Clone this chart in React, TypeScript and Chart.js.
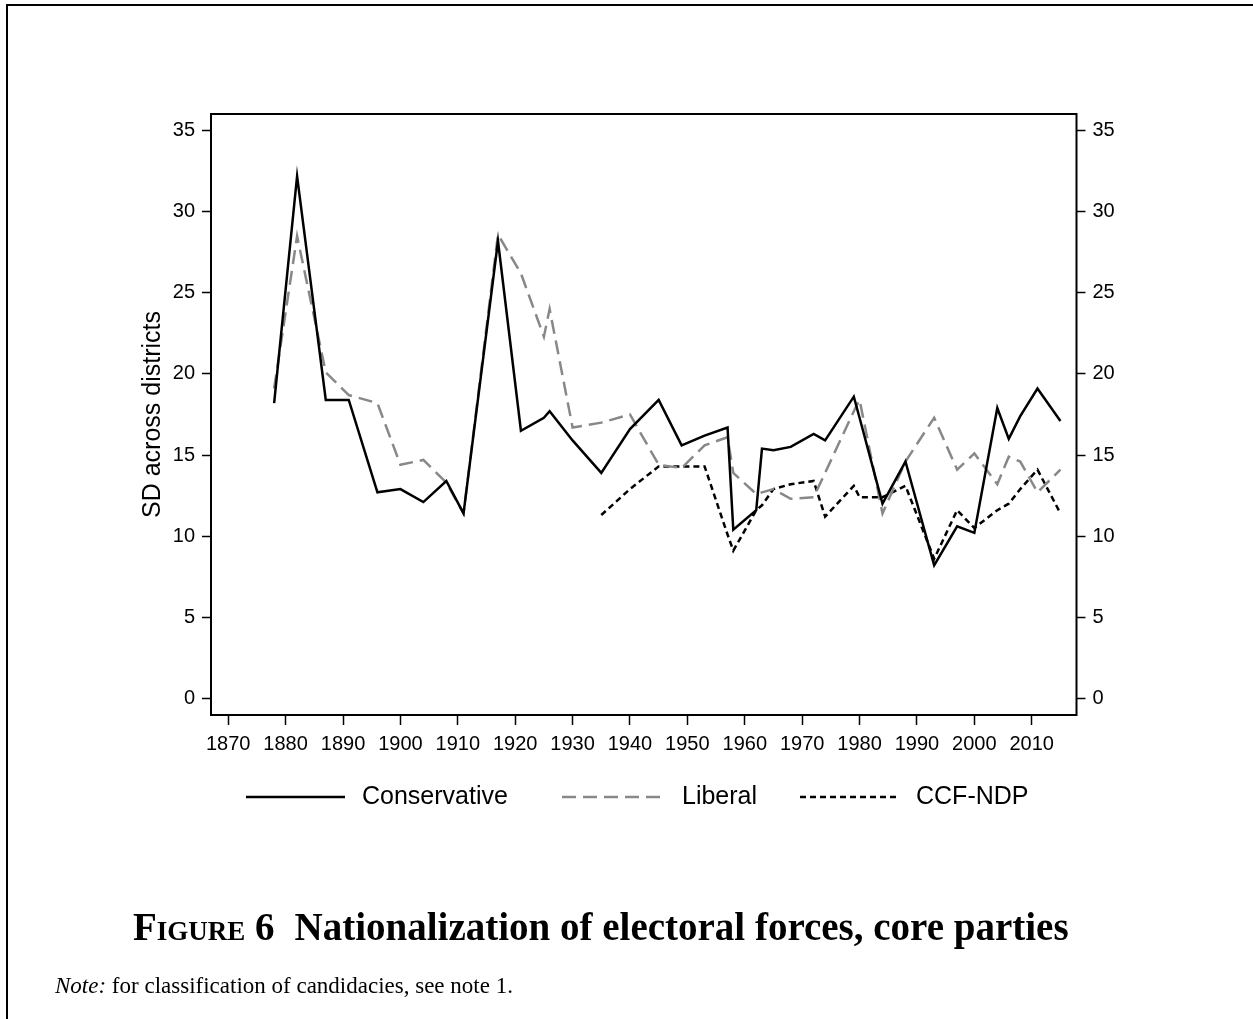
import React, { useEffect, useRef } from "react";
import { Chart, registerables } from "chart.js";

Chart.register(...registerables);

// ---- Data ----
const years = [
  1878, 1882, 1887, 1891, 1896, 1900, 1904, 1908, 1911, 1917, 1921, 1925, 1926,
  1930, 1935, 1940, 1945, 1949, 1953, 1957, 1958, 1962, 1963, 1965, 1968, 1972,
  1974, 1979, 1980, 1984, 1988, 1993, 1997, 2000, 2004, 2006, 2008, 2011, 2015,
];
const conservative = [
  18.2, 32.2, 18.4, 18.4, 12.7, 12.9, 12.1, 13.4, 11.4, 28.2, 16.5, 17.3, 17.7,
  15.9, 13.9, 16.6, 18.4, 15.6, 16.2, 16.7, 10.4, 11.6, 15.4, 15.3, 15.5, 16.3,
  15.9, 18.6, 17.3, 12.0, 14.6, 8.2, 10.6, 10.2, 17.9, 16.0, 17.4, 19.1, 17.1,
];
const liberal = [
  19.1, 28.5, 20.1, 18.7, 18.2, 14.4, 14.7, 13.3, 11.4, 28.6, 26.2, 22.3, 24.0,
  16.7, 17.0, 17.5, 14.4, 14.2, 15.6, 16.1, 13.9, 12.6, 12.7, 12.9, 12.3, 12.4,
  13.9, 17.7, 18.4, 11.4, 14.6, 17.3, 14.1, 15.1, 13.2, 14.9, 14.6, 12.7, 14.1,
];
const ccfNdp: (number | null)[] = [
  null, null, null, null, null, null, null, null, null, null, null, null, null,
  null, 11.3, 12.9, 14.3, 14.3, 14.3, 10.1, 9.1, 11.6, 11.9, 12.9, 13.2, 13.4,
  11.2, 13.1, 12.4, 12.4, 13.1, 8.6, 11.6, 10.5, 11.6, 12.0, 12.9, 14.1, 11.4,
];
const seriesNames = ["Conservative", "Liberal", "CCF-NDP"];
const xTicks = [1870, 1880, 1890, 1900, 1910, 1920, 1930, 1940, 1950, 1960, 1970, 1980, 1990, 2000, 2010];
const yTicks = [0, 5, 10, 15, 20, 25, 30, 35];
const yTitle = "SD across districts";

const W = 1253;
const H = 1019;
const AREA = { left: 211, right: 1076.5, top: 114, bottom: 715 };
const SANS = "'Liberation Sans', Arial, Helvetica, sans-serif";
const SERIF = "'Liberation Serif', 'Times New Roman', serif";

const toPoints = (vals: (number | null)[]) => years.map((y, i) => ({ x: y, y: vals[i] }));

const framePlugin = {
  id: "frame",
  afterDraw(chart: any) {
    const { ctx, chartArea } = chart;
    ctx.save();
    ctx.strokeStyle = "#000";
    ctx.lineWidth = 2;
    ctx.strokeRect(chartArea.left, chartArea.top, chartArea.right - chartArea.left, chartArea.bottom - chartArea.top);
    ctx.restore();
  },
};

const legendPlugin = {
  id: "customLegend",
  afterDraw(chart: any) {
    const { ctx } = chart;
    const y = 797;
    const items = [
      { x0: 246, x1: 345, tx: 362 },
      { x0: 562, x1: 665, tx: 682 },
      { x0: 800, x1: 900, tx: 916 },
    ];
    ctx.save();
    chart.data.datasets.forEach((ds: any, i: number) => {
      const it = items[i];
      ctx.beginPath();
      ctx.strokeStyle = ds.borderColor;
      ctx.lineWidth = ds.borderWidth;
      ctx.setLineDash(ds.borderDash || []);
      ctx.moveTo(it.x0, y);
      ctx.lineTo(it.x1, y);
      ctx.stroke();
      ctx.setLineDash([]);
      ctx.fillStyle = "#000";
      ctx.font = `25px ${SANS}`;
      ctx.textBaseline = "middle";
      ctx.textAlign = "left";
      ctx.fillText(ds.label, it.tx, y);
    });
    ctx.restore();
  },
};

const axisCommon = (position: string, width: number, padding: number) => ({
  type: "linear" as const,
  position,
  min: -1.03,
  max: 36.03,
  afterBuildTicks: (s: any) => {
    s.ticks = yTicks.map((v) => ({ value: v }));
  },
  afterFit: (s: any) => {
    s.width = width;
  },
  grid: { drawOnChartArea: false, drawTicks: true, tickLength: 9, tickColor: "#000", tickWidth: 1.5, color: "#000" },
  border: { display: false },
  ticks: { color: "#000", font: { family: SANS, size: 20 }, padding },
});

export default function App() {
  const ref = useRef<HTMLCanvasElement | null>(null);

  useEffect(() => {
    if (!ref.current) return;
    const chart = new Chart(ref.current, {
      type: "line",
      data: {
        datasets: [
          {
            label: seriesNames[0],
            data: toPoints(conservative),
            borderColor: "#000",
            borderWidth: 2.5,
            pointRadius: 0,
            tension: 0,
          },
          {
            label: seriesNames[1],
            data: toPoints(liberal),
            borderColor: "#888888",
            borderWidth: 2.5,
            borderDash: [14, 7],
            pointRadius: 0,
            tension: 0,
          },
          {
            label: seriesNames[2],
            data: toPoints(ccfNdp),
            borderColor: "#000",
            borderWidth: 2.5,
            borderDash: [6, 4],
            pointRadius: 0,
            tension: 0,
            spanGaps: false,
          },
        ],
      },
      options: {
        animation: false,
        responsive: false,
        maintainAspectRatio: false,
        devicePixelRatio: 1,
        layout: { padding: { top: AREA.top, left: 0, right: 0, bottom: H - AREA.bottom - 40 } },
        plugins: { legend: { display: false }, tooltip: { enabled: false }, title: { display: false } },
        scales: {
          x: {
            type: "linear",
            min: 1867,
            max: 2017.8,
            afterBuildTicks: (s: any) => {
              s.ticks = xTicks.map((v) => ({ value: v }));
            },
            afterFit: (s: any) => {
              s.height = 40;
            },
            grid: { drawOnChartArea: false, drawTicks: true, tickLength: 10, tickColor: "#000", tickWidth: 1.5, color: "#000" },
            border: { display: false },
            ticks: {
              color: "#000",
              font: { family: SANS, size: 20 },
              padding: 7,
              maxRotation: 0,
              autoSkip: false,
              callback: (v: any) => String(v),
            },
          },
          y: {
            ...axisCommon("left", AREA.left, 7),
            title: {
              display: true,
              text: yTitle,
              color: "#000",
              font: { family: SANS, size: 25 },
              padding: { top: 138, bottom: 0 },
            },
          },
          y2: axisCommon("right", W - AREA.right, 7),
        },
      } as any,
      plugins: [framePlugin, legendPlugin],
    });
    return () => chart.destroy();
  }, []);

  return (
    <div style={{ position: "fixed", left: 0, top: 0, width: W, height: H, background: "#fff", overflow: "hidden" }}>
      <div
        style={{
          position: "absolute",
          left: 6,
          top: 4,
          width: W + 20,
          height: H + 20,
          borderLeft: "2.5px solid #000",
          borderTop: "2.5px solid #000",
          boxSizing: "border-box",
        }}
      />
      <canvas ref={ref} width={W} height={H} style={{ position: "absolute", left: 0, top: 0, width: W, height: H }} />
      <div
        style={{
          position: "absolute",
          left: 133,
          top: 904,
          fontFamily: SERIF,
          fontWeight: "bold",
          fontSize: 39,
          whiteSpace: "nowrap",
          lineHeight: "46px",
          color: "#000",
        }}
      >
        <span style={{ fontVariant: "small-caps" }}>Figure 6</span>
        <span style={{ display: "inline-block", width: 20 }} />
        Nationalization of electoral forces, core parties
      </div>
      <div
        style={{
          position: "absolute",
          left: 55,
          top: 972,
          fontFamily: SERIF,
          fontSize: 23,
          whiteSpace: "nowrap",
          lineHeight: "28px",
          color: "#000",
        }}
      >
        <i>Note:</i> for classification of candidacies, see note 1.
      </div>
    </div>
  );
}
